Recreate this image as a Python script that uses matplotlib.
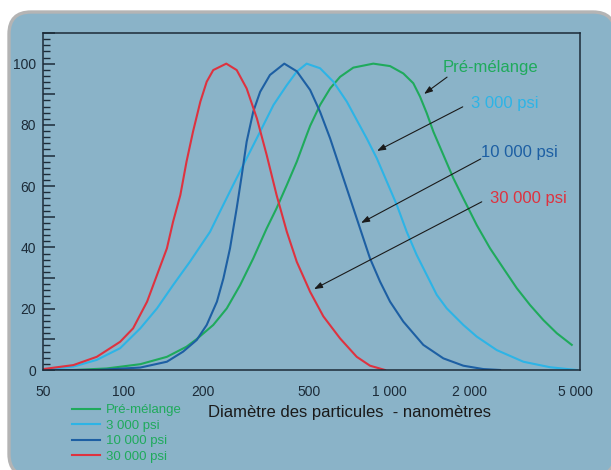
import numpy as np
import matplotlib
matplotlib.use("Agg")
import matplotlib.pyplot as plt
from matplotlib.patches import FancyBboxPatch
from matplotlib.ticker import FixedLocator, MultipleLocator, NullFormatter

plt.rcParams["font.family"] = ["Liberation Sans", "DejaVu Sans"]

BG = "#8AB3C8"
INK = "#1C2B38"

# particle diameter (nm) / relative volume (%)
pre_d = [50, 65, 86.7, 116, 146, 173, 189, 218, 245, 275, 308, 346, 377, 412, 449,
         489, 504, 549, 599, 653, 732, 870, 1006, 1128, 1230, 1304, 1382, 1463, 1595,
         1739, 1896, 2129, 2389, 2680, 3010, 3376, 3788, 4255, 4842]
pre_v = [0, 0, 0.5, 1.9, 4.3, 7.6, 10.1, 14.7, 20.1, 27.7, 36.4, 46.2, 52.8, 60.4, 68,
         76.7, 79.7, 86.5, 91.9, 95.7, 98.7, 100, 99.2, 96.8, 93.6, 89.2, 83.8, 77.8,
         70.2, 62.6, 56, 47.3, 39.7, 33.2, 26.7, 21.2, 16.3, 12, 8.2]

p3k_d = [50, 65, 79.6, 97.4, 116, 134, 154, 178, 212, 231, 259, 291, 327, 367, 412,
         449, 489, 549, 616, 692, 754, 822, 897, 978, 1066, 1162, 1267, 1382, 1507,
         1643, 1896, 2129, 2531, 3186, 4014, 5056]
p3k_v = [0.2, 1.1, 3.3, 7.1, 13.6, 20.1, 27.7, 35.3, 45.1, 51.7, 60.4, 69.1, 77.8,
         86.5, 93, 97.4, 100, 98.5, 94.1, 87.6, 81.6, 75.6, 69.1, 61.5, 53.9, 45.1,
         37.5, 31, 24.5, 20.1, 14.7, 10.9, 6.5, 2.7, 0.9, 0]

p10k_d = [50, 79.6, 116, 146, 168, 189, 206, 225, 238, 252, 267, 279, 291, 308, 327,
          356, 403, 449, 504, 549, 599, 653, 712, 776, 846, 923, 1006, 1128, 1341,
          1595, 1896, 2254, 2605]
p10k_v = [0, 0, 0.8, 2.7, 6, 9.8, 14.7, 22.3, 29.9, 39.7, 52.8, 63.6, 74.5, 84.3,
          90.8, 96.3, 100, 97.5, 91.4, 84.3, 75.6, 65.8, 56, 46.2, 36.4, 28.8, 22.3,
          15.8, 8.2, 3.8, 1.4, 0.3, 0]

p30k_d = [50, 65, 79.6, 97.4, 109, 123, 134, 146, 154, 164, 173, 183, 195, 206, 218,
          244, 267, 291, 318, 346, 377, 412, 449, 504, 565, 653, 754, 846, 963]
p30k_v = [0.3, 1.6, 4.3, 9.2, 13.6, 22.3, 31, 39.7, 48.4, 57.1, 68, 77.8, 87.6, 94.1,
          97.9, 100, 97.9, 91.9, 82.1, 70.2, 57.1, 45.1, 35.3, 25.5, 17.5, 10.3, 4.3,
          1.4, 0]

labels = ["Pré-mélange", "3 000 psi", "10 000 psi", "30 000 psi"]
colors = ["#1FAA5C", "#2DB4E6", "#1D5FA3", "#DE323F"]

# annotation text centres and arrow (tail, tip) in data units
label_pos = [(2389, 98.9), (2709, 87.1), (3070, 71.1), (3333, 56.1)]
arrow_tail = [(1647, 95.6), (1886, 85.9), (2204, 68.9), (2223, 54.9)]
arrow_tip = [(1350, 90.1), (899, 71.5), (783, 48.0), (521, 26.4)]

xticks = [50, 100, 200, 500, 1000, 2000, 5000]
xticklabels = ["50", "100", "200", "500", "1 000", "2 000", "5 000"]

fig = plt.figure(figsize=(6.11, 4.70), dpi=100, facecolor="white")

# rounded panel behind everything (pixel coordinates)
panel = FancyBboxPatch((9, -6), 606, 464, boxstyle="round,pad=0,rounding_size=22",
                       transform=None, facecolor=BG, edgecolor="#B4B4B4", lw=2.4,
                       zorder=-10)
fig.patches.append(panel)

ax = fig.add_axes([43 / 611, 100 / 470, 537 / 611, 337 / 470])
ax.set_facecolor("none")

series = [(pre_d, pre_v), (p3k_d, p3k_v), (p10k_d, p10k_v), (p30k_d, p30k_v)]
for (d, v), lab, c in zip(series, labels, colors):
    ax.plot(d, v, color=c, lw=1.5, label=lab, solid_joinstyle="round")

ax.set_xscale("log")
ax.set_xlim(50, 5200)
ax.set_ylim(0, 110)

# x: labels from major ticks, tick marks only on the inner values
ax.xaxis.set_major_locator(FixedLocator(xticks))
ax.set_xticklabels(xticklabels)
ax.xaxis.set_minor_locator(FixedLocator(xticks[1:-1]))
ax.xaxis.set_minor_formatter(NullFormatter())
ax.tick_params(axis="x", which="major", length=0, pad=11, labelsize=10, labelcolor=INK)
ax.tick_params(axis="x", which="minor", direction="in", length=12.5, width=1.1,
               color=INK)

ax.yaxis.set_major_locator(MultipleLocator(10))
ax.set_yticklabels([f"{int(t)}" if t % 20 == 0 else "" for t in ax.get_yticks()])
ax.yaxis.set_minor_locator(MultipleLocator(2))
ax.tick_params(axis="y", which="major", direction="in", length=8.5, width=1.1,
               color=INK, pad=5, labelsize=10, labelcolor=INK)
ax.tick_params(axis="y", which="minor", direction="in", length=5, width=1.0,
               color=INK)

for s in ax.spines.values():
    s.set_color(INK)
    s.set_linewidth(1.1)

for lab, c, (tx, ty), tail, tip in zip(labels, colors, label_pos, arrow_tail, arrow_tip):
    ax.text(tx, ty, lab, color=c, fontsize=12, ha="center", va="center")
    ax.annotate("", xy=tip, xytext=tail,
                arrowprops=dict(arrowstyle="-|>,head_length=0.5,head_width=0.18",
                                color="#1A1A1A", lw=0.8, shrinkA=0, shrinkB=0))

fig.text(350 / 611, 1 - 412 / 470, "Diamètre des particules  - nanomètres",
         fontsize=12, color="#1A1A1A", ha="center", va="center")

fig.legend(loc="upper left", bbox_to_anchor=(72 / 611, 1 - 404 / 470),
           frameon=False, fontsize=9.5, labelcolor=colors[0], handlelength=2.1,
           handletextpad=0.5, labelspacing=0.25, borderpad=0, borderaxespad=0)

fig.savefig("out.png", dpi=100, facecolor="white")
